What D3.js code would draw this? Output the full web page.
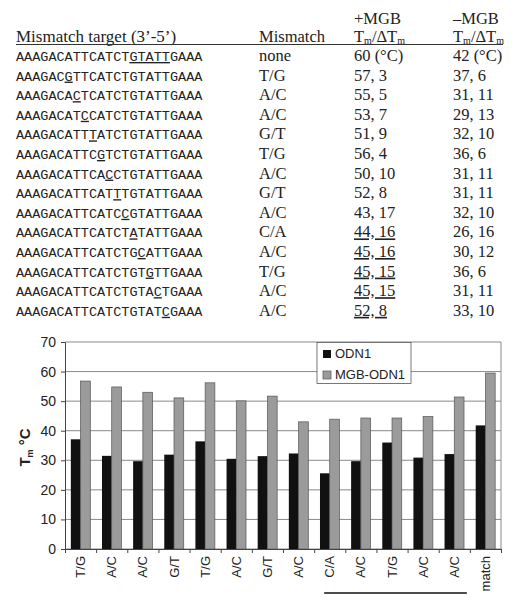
<!DOCTYPE html>
<html>
<head>
<meta charset="utf-8">
<script src="https://cdn.jsdelivr.net/npm/d3@7"></script>
<style>
  body { margin: 0; background: #fff; }
  .serif { font-family: "Liberation Serif", "Times New Roman", serif; }
  .mono { font-family: "Liberation Mono", "Courier New", monospace; }
  .sans { font-family: "Liberation Sans", Arial, sans-serif; }
</style>
</head>
<body>
<div id="chart"></div>
<script>
// table data
var targets = ["AAAGACATTCATCTGTATTGAAA", "AAAGACGTTCATCTGTATTGAAA", "AAAGACACTCATCTGTATTGAAA",
  "AAAGACATCCATCTGTATTGAAA", "AAAGACATTTATCTGTATTGAAA", "AAAGACATTCGTCTGTATTGAAA",
  "AAAGACATTCACCTGTATTGAAA", "AAAGACATTCATTTGTATTGAAA", "AAAGACATTCATCCGTATTGAAA",
  "AAAGACATTCATCTATATTGAAA", "AAAGACATTCATCTGCATTGAAA", "AAAGACATTCATCTGTGTTGAAA",
  "AAAGACATTCATCTGTACTGAAA", "AAAGACATTCATCTGTATCGAAA"];
var marked = [[14, 19], [6, 7], [7, 8], [8, 9], [9, 10], [10, 11], [11, 12], [12, 13],
  [13, 14], [14, 15], [15, 16], [16, 17], [17, 18], [18, 19]];
var mismatches = ["none", "T/G", "A/C", "A/C", "G/T", "T/G", "A/C", "G/T", "A/C", "C/A", "A/C", "T/G", "A/C", "A/C"];
var plusMGB = ["60 (°C)", "57, 3", "55, 5", "53, 7", "51, 9", "56, 4", "50, 10", "52, 8", "43, 17",
  "44, 16", "45, 16", "45, 15", "45, 15", "52, 8"];
var plusUnderlined = [9, 10, 11, 12, 13];
var minusMGB = ["42 (°C)", "37, 6", "31, 11", "29, 13", "32, 10", "36, 6", "31, 11", "31, 11", "32, 10",
  "26, 16", "30, 12", "36, 6", "31, 11", "33, 10"];

// chart data
var categories = ["T/G", "A/C", "A/C", "G/T", "T/G", "A/C", "G/T", "A/C", "C/A", "A/C", "T/G", "A/C", "A/C", "match"];
var odn1 = [37.1, 31.5, 29.7, 31.9, 36.4, 30.5, 31.4, 32.3, 25.6, 29.7, 36.0, 30.9, 32.1, 41.8];
var mgbOdn1 = [56.8, 54.8, 53.0, 51.1, 56.2, 50.1, 51.7, 43.0, 43.9, 44.3, 44.3, 44.8, 51.4, 59.5];
var yTicks = [0, 10, 20, 30, 40, 50, 60, 70];
var bracket = [8, 12]; // categories grouped by the line under the labels

var width = 520, height = 608;

var svg = d3.select("#chart").append("svg")
  .attr("width", width)
  .attr("height", height);

// ---- table ----
var table = svg.append("g").attr("class", "serif").attr("font-size", 16.5).attr("fill", "#222");
var rowY = d3.scaleLinear().domain([0, 1]).range([61, 80.6]);
var colMis = 259, colPlus = 354, colMinus = 453;

table.append("text").attr("x", 16).attr("y", 42).attr("font-size", 17).text("Mismatch target (3’-5’)");
table.append("text").attr("x", colMis).attr("y", 42).text("Mismatch");
table.append("text").attr("x", colPlus).attr("y", 24).text("+MGB");
table.append("text").attr("x", colMinus).attr("y", 24).text("–MGB");

[colPlus, colMinus].forEach(function(cx) {
  var t = table.append("text").attr("x", cx).attr("y", 42);
  t.append("tspan").text("T");
  t.append("tspan").attr("font-size", 10).attr("dy", 2).text("m");
  t.append("tspan").attr("dy", -2).text("/");
  t.append("tspan").text("Δ");
  t.append("tspan").text("T");
  t.append("tspan").attr("font-size", 10).attr("dy", 2).text("m");
});

table.append("line")
  .attr("x1", 16).attr("x2", 503)
  .attr("y1", 44.5).attr("y2", 44.5)
  .attr("stroke", "#333").attr("stroke-width", 1.2);

var seq = svg.append("g").attr("class", "mono").attr("font-size", 13.5).attr("fill", "#222");
seq.selectAll("text")
  .data(targets)
  .enter().append("text")
  .attr("x", 16)
  .attr("y", function(d, i) { return rowY(i); })
  .each(function(d, i) {
    var t = d3.select(this), m = marked[i];
    t.append("tspan").text(d.slice(0, m[0]));
    t.append("tspan").style("text-decoration", "underline").text(d.slice(m[0], m[1]));
    t.append("tspan").text(d.slice(m[1]));
  });

table.selectAll(".mis")
  .data(mismatches)
  .enter().append("text")
  .attr("class", "mis")
  .attr("x", colMis)
  .attr("y", function(d, i) { return rowY(i); })
  .text(function(d) { return d; });

table.selectAll(".plus")
  .data(plusMGB)
  .enter().append("text")
  .attr("class", "plus")
  .attr("x", colPlus)
  .attr("y", function(d, i) { return rowY(i); })
  .style("text-decoration", function(d, i) { return plusUnderlined.indexOf(i) >= 0 ? "underline" : null; })
  .text(function(d) { return d; });

table.selectAll(".minus")
  .data(minusMGB)
  .enter().append("text")
  .attr("class", "minus")
  .attr("x", colMinus)
  .attr("y", function(d, i) { return rowY(i); })
  .text(function(d) { return d; });

// ---- bar chart ----
var plotLeft = 65, plotRight = 501, plotTop = 342, plotBottom = 549;

var x = d3.scaleBand().domain(d3.range(categories.length)).range([plotLeft, plotRight]);
var xEdge = d3.scaleLinear().domain([0, categories.length]).range([plotLeft, plotRight]);
var x1 = d3.scaleBand().domain(["odn1", "mgb"]).range([0, x.bandwidth()]).paddingOuter(0.6);
var y = d3.scaleLinear().domain([0, 70]).range([plotBottom, plotTop]);

var chart = svg.append("g").attr("class", "sans");

// gridlines
chart.append("g")
  .selectAll("line")
  .data(yTicks)
  .enter().append("line")
  .attr("x1", plotLeft).attr("x2", plotRight)
  .attr("y1", function(d) { return y(d); })
  .attr("y2", function(d) { return y(d); })
  .attr("stroke", "#8a8a8a")
  .attr("stroke-width", 1);

// right border
chart.append("line")
  .attr("x1", plotRight).attr("x2", plotRight)
  .attr("y1", plotTop).attr("y2", plotBottom)
  .attr("stroke", "#8a8a8a");

// bars
var groups = chart.append("g")
  .selectAll("g")
  .data(categories)
  .enter().append("g")
  .attr("transform", function(d, i) { return "translate(" + x(i) + ",0)"; });

groups.append("rect")
  .attr("x", x1("odn1"))
  .attr("width", x1.bandwidth())
  .attr("y", function(d, i) { return y(odn1[i]); })
  .attr("height", function(d, i) { return plotBottom - y(odn1[i]); })
  .attr("fill", "#111");

groups.append("rect")
  .attr("x", x1("mgb"))
  .attr("width", x1.bandwidth())
  .attr("y", function(d, i) { return y(mgbOdn1[i]); })
  .attr("height", function(d, i) { return plotBottom - y(mgbOdn1[i]); })
  .attr("fill", "#9b9b9b")
  .attr("stroke", "#555")
  .attr("stroke-width", 0.7);

// y axis
var yAxis = chart.append("g")
  .attr("transform", "translate(" + plotLeft + ",0)")
  .call(d3.axisLeft(y).tickValues(yTicks).tickSize(4).tickPadding(5));
yAxis.selectAll("text").attr("font-size", 14).attr("font-family", "Liberation Sans, Arial, sans-serif").attr("fill", "#222");
yAxis.select(".domain").attr("stroke", "#444");
yAxis.selectAll(".tick line").attr("stroke", "#444");

// x axis ticks at band edges
var xAxis = chart.append("g")
  .attr("transform", "translate(0," + plotBottom + ")")
  .call(d3.axisBottom(xEdge).ticks(categories.length).tickFormat("").tickSize(4).tickSizeOuter(0));
xAxis.select(".domain").attr("stroke", "#444");
xAxis.selectAll(".tick line").attr("stroke", "#444");

// x labels
chart.append("g")
  .selectAll("text")
  .data(categories)
  .enter().append("text")
  .attr("transform", function(d, i) {
    return "translate(" + (x(i) + x.bandwidth() / 2) + "," + (plotBottom + 7) + ") rotate(-90)";
  })
  .attr("dy", "0.35em")
  .attr("text-anchor", "end")
  .attr("font-size", 13)
  .attr("fill", "#222")
  .text(function(d) { return d; });

// line under grouped labels
chart.append("line")
  .attr("x1", x(bracket[0]) + 10)
  .attr("x2", x(bracket[1]) + x.bandwidth() - 3)
  .attr("y1", 593).attr("y2", 593)
  .attr("stroke", "#111").attr("stroke-width", 1.3);

// y label
var yl = chart.append("text")
  .attr("transform", "translate(30," + ((plotTop + plotBottom) / 2 + 2) + ") rotate(-90)")
  .attr("text-anchor", "middle")
  .attr("font-size", 15)
  .attr("font-weight", "bold")
  .attr("fill", "#222");
yl.append("tspan").text("T");
yl.append("tspan").attr("font-size", 9).attr("dy", 3).text("m");
yl.append("tspan").attr("dy", -3).text(" °C");

// legend
var legend = chart.append("g");
legend.append("rect")
  .attr("x", 317).attr("y", plotTop + 0.5)
  .attr("width", 94).attr("height", 41)
  .attr("fill", "#fff").attr("stroke", "#555").attr("stroke-width", 0.8);
var legendItems = [["ODN1", "#111"], ["MGB-ODN1", "#9b9b9b"]];
legendItems.forEach(function(it, i) {
  legend.append("rect")
    .attr("x", 323).attr("y", plotTop + 8 + i * 21)
    .attr("width", 8).attr("height", 8)
    .attr("fill", it[1]).attr("stroke", i ? "#555" : "none").attr("stroke-width", 0.7);
  legend.append("text")
    .attr("x", 335).attr("y", plotTop + 16 + i * 21)
    .attr("font-size", 13)
    .attr("fill", "#222")
    .text(it[0]);
});
</script>
</body>
</html>
